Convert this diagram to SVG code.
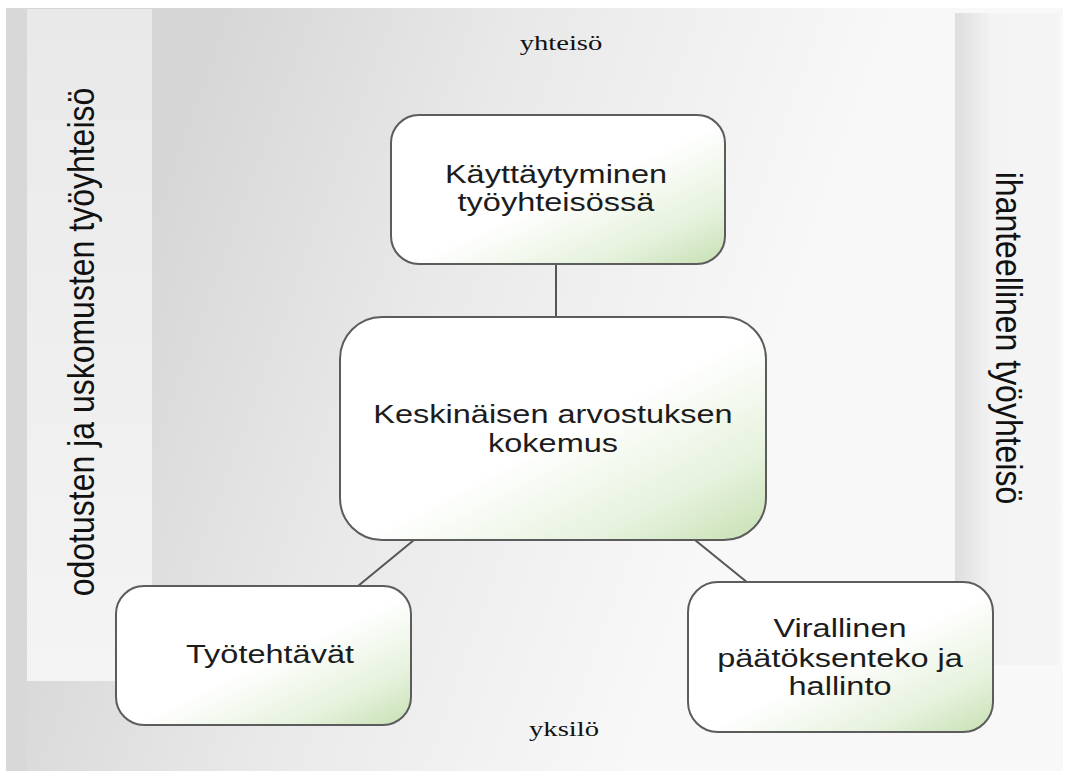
<svg xmlns="http://www.w3.org/2000/svg" width="1069" height="771" viewBox="0 0 1069 771">
<style>
.node{stroke:#5c5c5c;stroke-width:2;fill:url(#nodeFill)}
.conn{stroke:#555;stroke-width:2;fill:none}
.lbl{font-family:"Liberation Sans",Arial,sans-serif;font-size:25px;fill:#1c1c1c;text-anchor:middle}
.side{font-family:"Liberation Sans",Arial,sans-serif;font-size:32px;fill:#111;text-anchor:middle}
.axis{font-family:"Liberation Serif","Times New Roman",serif;font-size:22px;fill:#111;text-anchor:middle}
</style>
<defs>
<linearGradient id="nodeFill" x1="0" y1="0" x2="1" y2="1">
<stop offset="0" stop-color="#ffffff"/>
<stop offset="0.52" stop-color="#ffffff"/>
<stop offset="0.8" stop-color="#e6f2dd"/>
<stop offset="1" stop-color="#c6e0b2"/>
</linearGradient>
<linearGradient id="bg" gradientUnits="userSpaceOnUse" x1="150" y1="200" x2="760" y2="420">
<stop offset="0" stop-color="#d6d6d6"/>
<stop offset="0.45" stop-color="#e9e9e9"/>
<stop offset="1" stop-color="#f8f8f8"/>
</linearGradient>
<linearGradient id="leftPanel" x1="0" y1="0" x2="0" y2="1">
<stop offset="0" stop-color="#e9e9e9"/>
<stop offset="1" stop-color="#f4f4f4"/>
</linearGradient>
<linearGradient id="rightPanel" x1="0" y1="0" x2="1" y2="0">
<stop offset="0" stop-color="#dedede"/>
<stop offset="0.35" stop-color="#f3f3f3"/>
<stop offset="1" stop-color="#f5f5f5"/>
</linearGradient>
</defs>
<rect x="0" y="0" width="1069" height="771" fill="#ffffff"/>
<rect x="6" y="8" width="1057" height="763" fill="url(#bg)"/>
<rect x="6" y="8" width="21" height="763" fill="#d8d8d8"/>
<rect x="27" y="9" width="125" height="672" fill="url(#leftPanel)"/>
<rect x="955" y="13" width="105" height="652" fill="url(#rightPanel)"/>
<text class="side" transform="translate(94,342) scale(1.15,1) rotate(-90)">odotusten ja uskomusten työyhteisö</text>
<text class="side" transform="translate(996,338) scale(1.15,1) rotate(90)">ihanteellinen työyhteisö</text>
<text class="axis" transform="translate(561,50) scale(1.3,1)">yhteisö</text>
<text class="axis" transform="translate(564,736) scale(1.3,1)">yksilö</text>
<g id="connectors">
<line class="conn" x1="556" y1="264" x2="556" y2="317"/>
<line class="conn" x1="414" y1="540" x2="358" y2="586"/>
<line class="conn" x1="695" y1="540" x2="748" y2="583"/>
</g>
<g id="node-top">
<rect class="node" x="391" y="115" width="334" height="149" rx="28"/>
<text class="lbl" transform="translate(556,183) scale(1.3,1)">Käyttäytyminen</text>
<text class="lbl" transform="translate(556,211) scale(1.3,1)">työyhteisössä</text>
</g>
<g id="node-center">
<rect class="node" x="340" y="317" width="426" height="223" rx="42"/>
<text class="lbl" transform="translate(553,423) scale(1.3,1)">Keskinäisen arvostuksen</text>
<text class="lbl" transform="translate(553,452) scale(1.3,1)">kokemus</text>
</g>
<g id="node-left">
<rect class="node" x="116" y="586" width="295" height="139" rx="28"/>
<text class="lbl" transform="translate(270,663) scale(1.3,1)">Työtehtävät</text>
</g>
<g id="node-right">
<rect class="node" x="688" y="582" width="305" height="150" rx="30"/>
<text class="lbl" transform="translate(840,637) scale(1.3,1)">Virallinen</text>
<text class="lbl" transform="translate(840,667) scale(1.3,1)">päätöksenteko ja</text>
<text class="lbl" transform="translate(840,695) scale(1.3,1)">hallinto</text>
</g>
</svg>
